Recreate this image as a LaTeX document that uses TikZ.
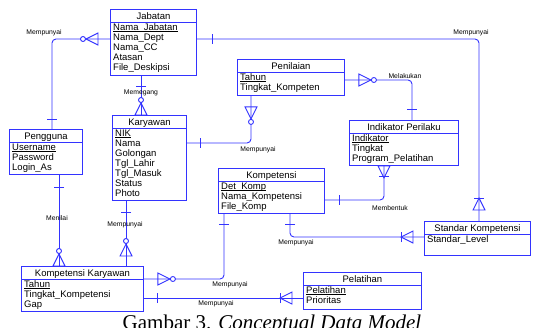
\documentclass[tikz,border=0pt]{standalone}
\usepackage{fontspec}
\setmainfont{Liberation Serif}
\newfontfamily\erfont{Liberation Sans}
\usetikzlibrary{calc}
\definecolor{erblue}{RGB}{51,51,255}

\tikzset{
  rel/.style={draw=erblue, line width=0.9pt, rounded corners=4pt},
  deco/.style={draw=erblue, line width=0.9pt},
  entbox/.style={draw=erblue, line width=0.9pt, anchor=north west, inner sep=0pt},
  enttitle/.style={font={\erfont\fontsize{9.5}{10}\selectfont}, inner sep=0pt, text height=7pt, text depth=2pt},
  entattr/.style={anchor=north west, align=left, inner sep=0pt,
    font={\erfont\fontsize{9.5}{10}\selectfont\lineskiplimit=-10pt}},
  rlabel/.style={font={\erfont\fontsize{6.8}{8}\selectfont}, inner sep=0pt},
  crow/.pic={\draw[deco] (#1,-6) -- ++(12,6) -- ++(-12,6) -- cycle;},
  ring/.pic={\draw[deco, fill=white] (#1,0) circle (2.5);},
  bar/.pic={\draw[deco] (#1,-5) -- (#1,5);},
}

% primary key: text with a thin rule just under the baseline
\newcommand{\erkey}[1]{\setbox0\hbox{#1}\rlap{\rule[-1.4pt]{\wd0}{0.55pt}}\box0}

% entity: name, corner, width, height, title, attributes
\newcommand{\erent}[6]{%
  \node[entbox, minimum width=#3, minimum height=#4] (#1) at (#2) {};
  \node[enttitle] (#1-t) at ($(#1.north)+(0,7.5)$) {#5};
  \draw[deco] ($(#1.north west)+(0,13)$) -- ($(#1.north east)+(0,13)$);
  \node[entattr] (#1-a) at ($(#1.north west)+(3,14.5)$) {#6};
}

\begin{document}
\begin{tikzpicture}[x=1pt, y=-1pt]
  \useasboundingbox (0,0) rectangle (533,327);
  \fill[white] (0,0) rectangle (533,327);

  % entities
  \erent{jab}{110,9}{86pt}{66pt}{Jabatan}{\erkey{Nama\_Jabatan}\\Nama\_Dept\\Nama\_CC\\Atasan\\File\_Deskipsi}
  \erent{pen}{237,59}{107pt}{36pt}{Penilaian}{\erkey{Tahun}\\Tingkat\_Kompeten}
  \erent{ind}{349,120}{109pt}{45pt}{Indikator Perilaku}{\erkey{Indikator}\\Tingkat\\Program\_Pelatihan}
  \erent{kar}{112,115}{74pt}{85pt}{Karyawan}{\erkey{NIK}\\Nama\\Golongan\\Tgl\_Lahir\\Tgl\_Masuk\\Status\\Photo}
  \erent{peng}{9,129}{73pt}{45pt}{Pengguna}{\erkey{Username}\\Password\\Login\_As}
  \erent{komp}{218,168}{106pt}{45pt}{Kompetensi}{\erkey{Det\_Komp}\\Nama\_Kompetensi\\File\_Komp}
  \erent{std}{424,221}{106pt}{34pt}{Standar Kompetensi}{Standar\_Level}
  \erent{pel}{303,272}{118pt}{37pt}{Pelatihan}{\erkey{Pelatihan}\\Prioritas}
  \erent{kk}{21,266}{122pt}{45pt}{Kompetensi Karyawan}{\erkey{Tahun}\\Tingkat\_Kompetensi\\Gap}

  % connection points
  \coordinate (jabL) at ($(jab.north west)+(0,30)$);
  \coordinate (jabR) at ($(jab.north east)+(0,30)$);
  \coordinate (jabB) at ($(jab.south west)+(31,0)$);
  \coordinate (pengT) at ($(peng.north west)+(43,0)$);
  \coordinate (pengB) at ($(peng.south west)+(50,0)$);
  \coordinate (karT) at ($(kar.north west)+(29,0)$);
  \coordinate (karR) at ($(kar.north east)+(0,28)$);
  \coordinate (karB) at ($(kar.south west)+(14,0)$);
  \coordinate (penB) at ($(pen.south west)+(14,0)$);
  \coordinate (penR) at ($(pen.north east)+(0,21)$);
  \coordinate (indT) at ($(ind.north west)+(63,0)$);
  \coordinate (indB) at ($(ind.south west)+(35,0)$);
  \coordinate (kompR) at ($(komp.north east)+(0,32)$);
  \coordinate (kompB) at ($(komp.south west)+(72,0)$);
  \coordinate (kompB2) at ($(komp.south west)+(6,0)$);
  \coordinate (stdT) at ($(std.north west)+(55,0)$);
  \coordinate (stdL) at ($(std.north west)+(0,16)$);
  \coordinate (kkT1) at ($(kk.north west)+(38,0)$);
  \coordinate (kkT2) at ($(kk.north west)+(105,0)$);
  \coordinate (kkR1) at ($(kk.north east)+(0,13)$);
  \coordinate (kkR2) at ($(kk.north east)+(0,32)$);
  \coordinate (pelL) at ($(pel.north west)+(0,26)$);

  % relationships
  \draw[rel] (jabL) -| (pengT);
  \draw[rel] (jabB) -- (karT);
  \draw[rel] (jabR) -| (stdT);
  \draw[rel] (penB) |- (karR);
  \draw[rel] (penR) -| (indT);
  \draw[rel] (indB) |- (kompR);
  \draw[rel] (kompB) |- (stdL);
  \draw[rel] (karB) -- (kkT2);
  \draw[rel] (pengB) -- (kkT1);
  \draw[rel] (kkR1) -| (kompB2);
  \draw[rel] (kkR2) -- (pelL);

  % cardinality marks
  \pic[rotate=180] at (jabL) {crow=12};
  \pic[rotate=180] at (jabL) {ring=27};
  \pic[rotate=90] at (pengT) {bar=10};
  \pic[rotate=-90] at (jabB) {bar=11};
  \pic[rotate=90] at (karT) {crow=0};
  \pic[rotate=90] at (karT) {ring=15};
  \pic at (jabR) {bar=16};
  \pic[rotate=90] at (stdT) {crow=11};
  \pic[rotate=90] at (stdT) {bar=23};
  \pic[rotate=-90] at (penB) {crow=11};
  \pic[rotate=-90] at (penB) {ring=26};
  \pic at (karR) {bar=14};
  \pic at (penR) {crow=14};
  \pic at (penR) {ring=29};
  \pic[rotate=90] at (indT) {bar=11};
  \pic[rotate=-90] at (indB) {crow=0};
  \pic[rotate=-90] at (indB) {bar=11};
  \pic at (kompR) {bar=15};
  \pic[rotate=-90] at (kompB) {bar=11};
  \pic[rotate=180] at (stdL) {crow=11};
  \pic[rotate=180] at (stdL) {bar=23};
  \pic[rotate=-90] at (karB) {bar=12};
  \pic[rotate=90] at (kkT2) {crow=10};
  \pic[rotate=90] at (kkT2) {ring=25};
  \pic[rotate=-90] at (pengB) {bar=13};
  \pic[rotate=90] at (kkT1) {crow=0};
  \pic[rotate=90] at (kkT1) {ring=15};
  \pic at (kkR1) {crow=14};
  \pic at (kkR1) {ring=29};
  \pic[rotate=-90] at (kompB2) {bar=11};
  \pic at (kkR2) {bar=14};
  \pic[rotate=180] at (pelL) {crow=11};
  \pic[rotate=180] at (pelL) {bar=23};

  % relationship names
  \node[rlabel] (l-jabpeng) at (44,33) {Mempunyai};
  \node[rlabel] (l-jabkar) at (141,93) {Memegang};
  \node[rlabel] (l-jabstd) at (471,33) {Mempunyai};
  \node[rlabel] (l-penind) at (405,76) {Melakukan};
  \node[rlabel] (l-penkar) at (258,150) {Mempunyai};
  \node[rlabel] (l-indkomp) at (390,208) {Membentuk};
  \node[rlabel] (l-kompstd) at (296,243) {Mempunyai};
  \node[rlabel] (l-karkk) at (125,225) {Mempunyai};
  \node[rlabel] (l-pengkk) at (57,218) {Menilai};
  \node[rlabel] (l-kkkomp) at (230,285) {Mempunyai};
  \node[rlabel] (l-kkpel) at (216,304) {Mempunyai};

  % caption
  \node[font={\fontsize{21}{24}\selectfont}, anchor=base, inner sep=0pt] (cap) at (272,329) {Gambar 3. \textit{Conceptual Data Model}};
\end{tikzpicture}
\end{document}
